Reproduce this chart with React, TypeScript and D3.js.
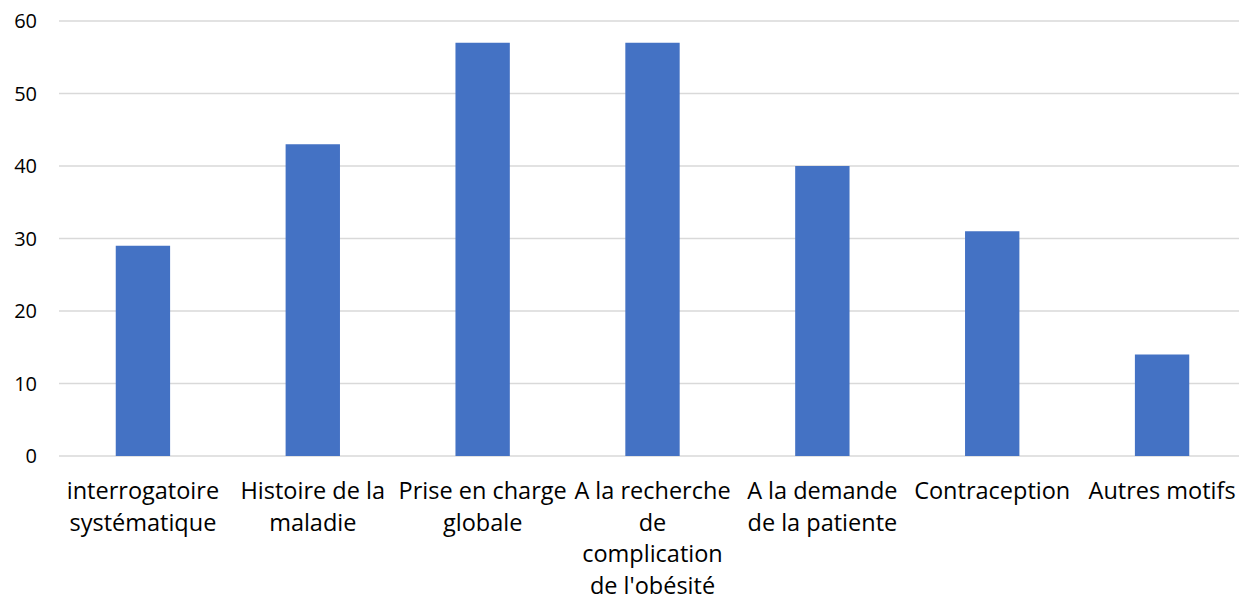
import * as d3 from 'd3'

// Motifs de consultation (libellés découpés comme dans l'original)
const categories = [
  'interrogatoire systématique',
  'Histoire de la maladie',
  'Prise en charge globale',
  "A la recherche de complication de l'obésité",
  'A la demande de la patiente',
  'Contraception',
  'Autres motifs',
]
const labelLines = [
  ['interrogatoire', 'systématique'],
  ['Histoire de la', 'maladie'],
  ['Prise en charge', 'globale'],
  ['A la recherche', 'de', 'complication', "de l'obésité"],
  ['A la demande', 'de la patiente'],
  ['Contraception'],
  ['Autres motifs'],
]
const values = [29, 43, 57, 57, 40, 31, 14]
const yTicks = [0, 10, 20, 30, 40, 50, 60]

const WIDTH = 1239
const HEIGHT = 596
const FONT = '"Open Sans", Lato, sans-serif'

export default function App() {
  const x = d3.scaleBand<string>().domain(categories).range([58, 1247]).paddingInner(0.68).paddingOuter(0.34)
  const y = d3.scaleLinear().domain([0, 60]).range([456, 21])

  return (
    <svg width={WIDTH} height={HEIGHT} style={{ position: 'absolute', left: 0, top: 0, background: '#fff' }}>
      {/* gridlines + y tick labels */}
      {yTicks.map(t => (
        <g key={t}>
          <line x1={59} x2={WIDTH} y1={y(t)} y2={y(t)} stroke="#d9d9d9" strokeWidth={1.3} />
          <text x={37} y={y(t)} dy="0.36em" textAnchor="end" fontFamily={FONT} fontSize={20} fill="#000">{t}</text>
        </g>
      ))}

      {/* bars */}
      {values.map((v, i) => (
        <rect
          key={categories[i]}
          x={x(categories[i])}
          y={y(v)}
          width={x.bandwidth()}
          height={y(0) - y(v)}
          fill="#4472c4"
        />
      ))}

      {/* category labels */}
      {labelLines.map((lines, i) => {
        const cx = (x(categories[i]) ?? 0) + x.bandwidth() / 2
        return (
          <text key={categories[i]} textAnchor="middle" fontFamily={FONT} fontSize={23.5} fill="#000">
            {lines.map((ln, j) => (
              <tspan key={j} x={cx} y={499 + j * 31.5}>{ln}</tspan>
            ))}
          </text>
        )
      })}
    </svg>
  )
}
